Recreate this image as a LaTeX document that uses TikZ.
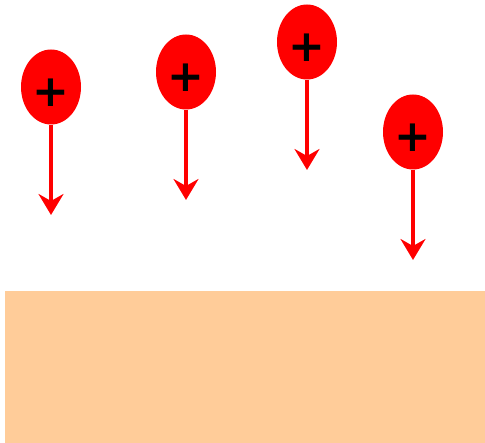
\documentclass[tikz,border=0pt]{standalone}
\usepackage{fontspec}
\newfontfamily\plusfont{DejaVu Sans}
\usepackage{tikz}
\usetikzlibrary{shapes.geometric,arrows.meta,positioning}

\begin{document}
\begin{tikzpicture}[x=1pt,y=-1pt,
  charge/.style={ellipse,fill=red,minimum width=60pt,minimum height=75pt,
    inner sep=0pt,text height=40pt,text depth=0pt,
    font=\plusfont\fontsize{44}{44}\selectfont\bfseries},
  fall/.style={-{Stealth[length=21pt,width=25pt,inset=7pt]},red,line width=3.2pt},
]
  \useasboundingbox (0,0) rectangle (485,443);
  % surface
  \fill[fill={rgb,255:red,255;green,204;blue,153}] (5,291) rectangle (485,443);
  % charges
  \node[charge] (c1) at (51,87) {+};
  \node[charge] (c2) at (186,72) {+};
  \node[charge] (c3) at (307,42) {+};
  \node[charge] (c4) at (413,132) {+};
  \coordinate (e1) at (51,215);
  \coordinate (e2) at (186,200);
  \coordinate (e3) at (307,170);
  \coordinate (e4) at (413,260);
  \draw[fall] (c1) -- (e1);
  \draw[fall] (c2) -- (e2);
  \draw[fall] (c3) -- (e3);
  \draw[fall] (c4) -- (e4);
\end{tikzpicture}
\end{document}
